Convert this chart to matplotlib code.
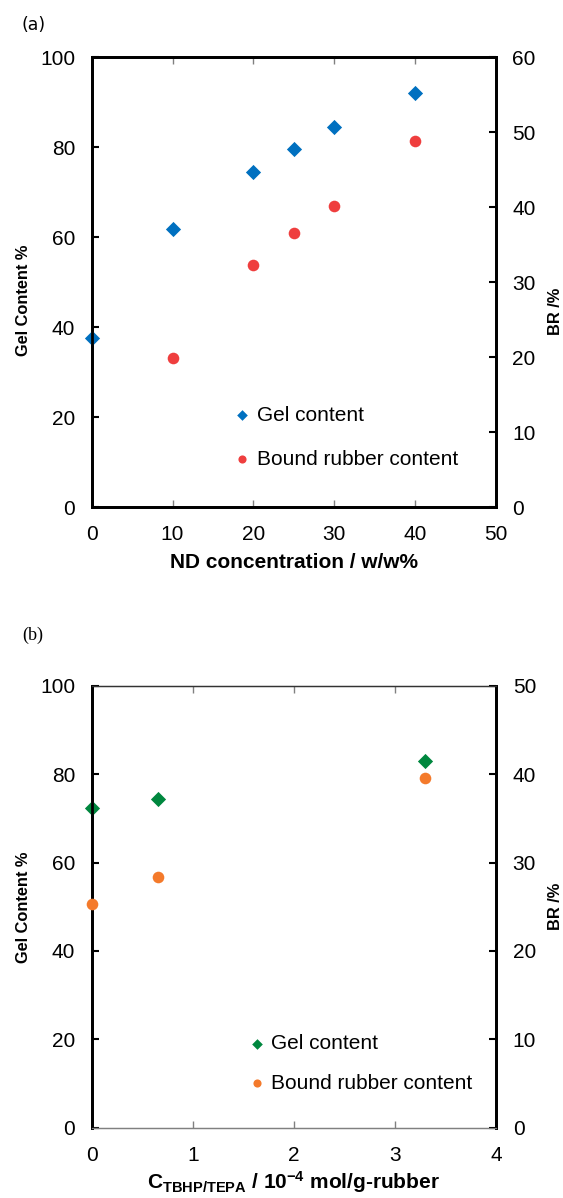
import matplotlib
matplotlib.use("Agg")
import matplotlib.pyplot as plt

plt.rcParams['font.family'] = ['Liberation Sans', 'DejaVu Sans']
plt.rcParams['mathtext.fontset'] = 'custom'
plt.rcParams['mathtext.rm'] = 'Liberation Sans'
plt.rcParams['mathtext.bf'] = 'Liberation Sans:bold'
plt.rcParams['mathtext.default'] = 'bf'

# Panel (a)
nd_gel = [0, 10, 20, 25, 30, 40]
gel_a = [37.6, 61.9, 74.6, 79.7, 84.6, 92.0]
nd_br = [10, 20, 25, 30, 40]
br_a = [19.9, 32.3, 36.6, 40.2, 48.9]
xticks_a = [0, 10, 20, 30, 40, 50]

# Panel (b)
c_b = [0, 0.66, 3.3]
gel_b = [72.3, 74.4, 83.0]
br_b = [25.3, 28.4, 39.6]
xticks_b = [0, 1, 2, 3, 4]

fig = plt.figure(figsize=(5.63, 11.98), dpi=100)

TICK_FS = 15
XLAB_FS = 15
YLAB_FS = 11.8
LEG_FS = 15

def style(ax, ax2, thick_top, thick_bottom):
    for a in (ax, ax2):
        a.spines['top'].set_linewidth(2.0 if thick_top else 0.9)
        a.spines['top'].set_color('black' if thick_top else '#333333')
        a.spines['bottom'].set_linewidth(2.0 if thick_bottom else 0.9)
        a.spines['bottom'].set_color('black' if thick_bottom else '#808080')
        a.spines['left'].set_linewidth(2.0)
        a.spines['left'].set_color('black')
        a.spines['right'].set_linewidth(2.0)
        a.spines['right'].set_color('black')
    ax.tick_params(axis='y', direction='in', length=5, width=1.5, color='black',
                   labelsize=TICK_FS, pad=12)
    ax2.tick_params(axis='y', direction='in', length=5, width=1.5, color='black',
                    labelsize=TICK_FS, pad=12)
    ax.tick_params(axis='x', direction='in', length=5, width=1.0, color='#808080',
                   labelsize=TICK_FS, top=True, pad=13)

def place_ylabels(ax, ax2, yl, yr):
    ax.yaxis.set_label_coords(-0.168, yl)
    ax.yaxis.label.set_verticalalignment('center')
    ax2.yaxis.set_label_coords(1.147, yr)
    ax2.yaxis.label.set_verticalalignment('center')

# ---------- (a) ----------
axa = fig.add_axes([0.163, 0.5765, 0.7175, 0.3757])
axa2 = axa.twinx()
h1 = axa.scatter(nd_gel, gel_a, marker='D', s=60, color='#0070C0', zorder=3,
                 label='Gel content', linewidths=0, clip_on=False)
h2 = axa2.scatter(nd_br, br_a, marker='o', s=70, color='#EF3E3E', zorder=3,
                  label='Bound rubber content', linewidths=0, clip_on=False)
axa.set_xlim(0, 50)
axa.set_ylim(0, 100)
axa2.set_ylim(0, 60)
axa.set_xticks(xticks_a)
axa.set_yticks([0, 20, 40, 60, 80, 100])
axa2.set_yticks([0, 10, 20, 30, 40, 50, 60])
style(axa, axa2, True, True)
axa.set_xlabel('ND concentration / w/w%', fontsize=XLAB_FS, fontweight='bold', labelpad=6)
axa.set_ylabel('Gel Content %', fontsize=YLAB_FS, fontweight='bold')
axa2.set_ylabel('BR /%', fontsize=YLAB_FS, fontweight='bold')
place_ylabels(axa, axa2, 0.46, 0.435)
axa.legend(handles=[h1, h2], loc='lower left', bbox_to_anchor=(0.275, 0.044),
           frameon=False, fontsize=LEG_FS, handletextpad=-0.3, labelspacing=1.2,
           markerscale=0.7)
fig.text(0.038, 0.979, '(a)', fontsize=12.5, family='DejaVu Sans', va='center')

# ---------- (b) ----------
axb = fig.add_axes([0.163, 0.0587, 0.718, 0.3687])
axb2 = axb.twinx()
g1 = axb.scatter(c_b, gel_b, marker='D', s=60, color='#00873E', zorder=3,
                 label='Gel content', linewidths=0, clip_on=False)
g2 = axb2.scatter(c_b, br_b, marker='o', s=70, color='#F47A2B', zorder=3,
                  label='Bound rubber content', linewidths=0, clip_on=False)
axb.set_xlim(0, 4)
axb.set_ylim(0, 100)
axb2.set_ylim(0, 50)
axb.set_xticks(xticks_b)
axb.set_yticks([0, 20, 40, 60, 80, 100])
axb2.set_yticks([0, 10, 20, 30, 40, 50])
style(axb, axb2, False, False)
axb.set_xlabel(r'C$_{\mathbf{TBHP/TEPA}}$ / 10$^{\mathbf{-4}}$ mol/g-rubber',
               fontsize=XLAB_FS, fontweight='bold', labelpad=3)
axb.set_ylabel('Gel Content %', fontsize=YLAB_FS, fontweight='bold')
axb2.set_ylabel('BR /%', fontsize=YLAB_FS, fontweight='bold')
place_ylabels(axb, axb2, 0.5, 0.5)
axb.legend(handles=[g1, g2], loc='lower left', bbox_to_anchor=(0.31, 0.037),
           frameon=False, fontsize=LEG_FS, handletextpad=-0.3, labelspacing=0.97,
           markerscale=0.7)
fig.text(0.04, 0.47, '(b)', fontsize=13, family='Liberation Serif', va='center')

fig.savefig('out.png', dpi=100)
